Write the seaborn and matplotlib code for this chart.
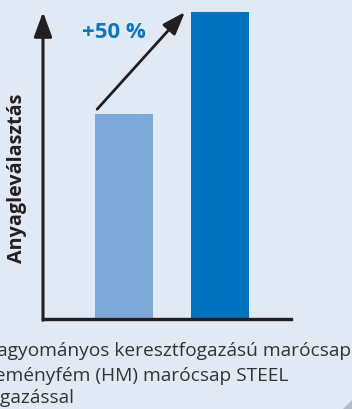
import matplotlib
matplotlib.use("Agg")
import matplotlib.pyplot as plt
from matplotlib.patches import Polygon
import seaborn as sns
import pandas as pd

# Data
categories = ["Hagyományos keresztfogazású marócsap",
              "Keményfém (HM) marócsap STEEL fogazással"]
removal = [100, 150]
bar_colors = ["#7ea8d9", "#0071bc"]
increase_label = "+50 %"
y_label = "Anyagleválasztás"
legend_lines = ["Hagyományos keresztfogazású marócsap",
                "Keményfém (HM) marócsap STEEL",
                "fogazással"]

BG = "#e1e9f5"
INK = "#231f20"

sns.set_theme(style="white")
plt.rcParams["font.family"] = ["Open Sans", "DejaVu Sans"]

W, H = 352, 410
fig = plt.figure(figsize=(W / 100, H / 100), dpi=100, facecolor=BG)

# axes box in pixels: x 43..291, y 13..320 (from top)
ax = fig.add_axes([43 / W, (H - 320) / H, 248 / W, 307 / H])
ax.set_facecolor(BG)

df = pd.DataFrame({"cat": categories, "val": removal})
sns.barplot(data=df, x="cat", y="val", hue="cat", order=categories,
            hue_order=categories, palette=bar_colors, width=0.604,
            saturation=1, legend=False, linewidth=0, edgecolor="none", ax=ax)

ax.set_xlim(-0.844, 1.74)
ax.set_ylim(0, max(removal))
ax.set_xticks([])
ax.set_yticks([])
ax.set_xlabel("")
ax.set_ylabel("")
for side in ["top", "right", "left"]:
    ax.spines[side].set_visible(False)
ax.spines["bottom"].set_color(INK)
ax.spines["bottom"].set_linewidth(2.4)

# vertical axis with arrow head
ax.annotate("", xy=(0, 1.0), xytext=(0, -0.004), xycoords="axes fraction",
            textcoords="axes fraction", annotation_clip=False,
            arrowprops=dict(arrowstyle="-|>,head_length=1.5,head_width=0.55",
                            mutation_scale=10, color=INK, lw=2.2,
                            shrinkA=0, shrinkB=0))

# growth arrow from the first bar to the second
ax.annotate("", xy=(0.635, removal[1]), xytext=(-0.28, removal[0] + 2.5),
            xycoords="data", annotation_clip=False,
            arrowprops=dict(arrowstyle="-|>,head_length=1.4,head_width=0.5",
                            mutation_scale=10, color=INK, lw=2.0,
                            shrinkA=0, shrinkB=0))

ax.text(-0.44, 140.5, increase_label, ha="left", va="center",
        fontsize=16, fontweight="bold", color="#0a78c1")

fig.text(17 / W, 1 - 178 / H, y_label, rotation=90, ha="center", va="center",
         fontsize=14.2, fontweight="bold", color=INK)

# legend text, starting past the left edge of the panel
for line, base in zip(legend_lines, [356, 381, 403]):
    fig.text(-17 / W, 1 - base / H, line, ha="left", va="baseline",
             fontsize=13.8, color="#333333")

# folded page corner
fig.patches.append(Polygon([(343 / W, 0), (1, 0), (1, 9 / H)], closed=True,
                           transform=fig.transFigure, facecolor="#b3bcc8",
                           edgecolor="none"))

fig.savefig("out.png", dpi=100, facecolor=BG)
